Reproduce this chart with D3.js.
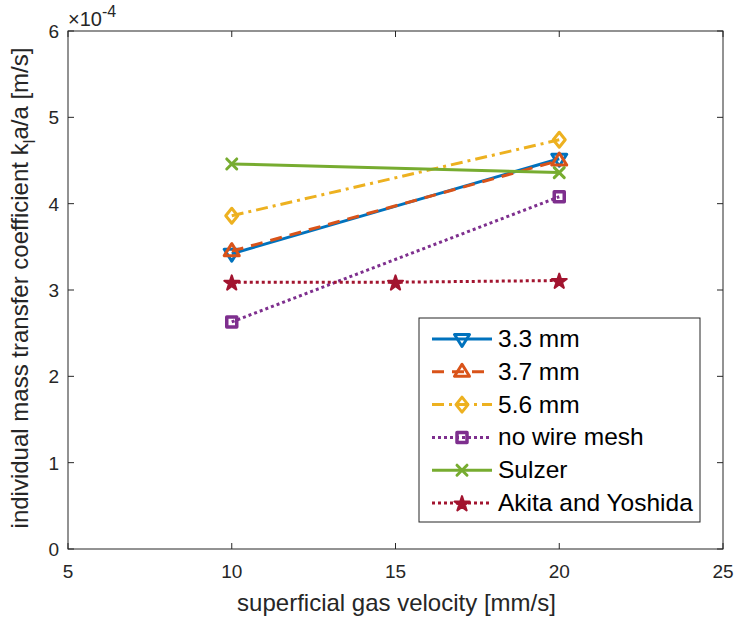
<!DOCTYPE html>
<html>
<head>
<meta charset="utf-8">
<script src="https://cdn.jsdelivr.net/npm/d3@7"></script>
<style>
  html, body { margin: 0; padding: 0; background: #fff; }
  svg { display: block; font-family: "Liberation Sans", Arial, sans-serif; }
</style>
</head>
<body>
<svg id="chart" width="736" height="620"></svg>
<script>
// Gas velocities (mm/s)
const velocities = [10, 20];
const velocitiesAkita = [10, 15, 20];

// k_L a / a values, in units of 1e-4 m/s
const wire33 = [3.42, 4.52];
const wire37 = [3.45, 4.50];
const wire56 = [3.86, 4.74];
const noMesh = [2.63, 4.08];
const sulzer = [4.46, 4.36];
const akitaYoshida = [3.09, 3.09, 3.11];

const xTicks = [5, 10, 15, 20, 25];
const yTicks = [0, 1, 2, 3, 4, 5, 6];

const series = [
  { name: "3.3 mm", xs: velocities, ys: wire33, color: "#0072BD", dash: null, marker: "tdown" },
  { name: "3.7 mm", xs: velocities, ys: wire37, color: "#D95319", dash: "12,8", marker: "tup" },
  { name: "5.6 mm", xs: velocities, ys: wire56, color: "#EDB120", dash: "12,5,3,5", marker: "diamond" },
  { name: "no wire mesh", xs: velocities, ys: noMesh, color: "#7E2F8E", dash: "3,3", marker: "square" },
  { name: "Sulzer", xs: velocities, ys: sulzer, color: "#77AC30", dash: null, marker: "x" },
  { name: "Akita and Yoshida", xs: velocitiesAkita, ys: akitaYoshida, color: "#A2142F", dash: "3,3", marker: "star" }
];

const svg = d3.select("#chart");
const m = { left: 68, right: 723, top: 31, bottom: 549 };
const axisColor = "#262626";

const x = d3.scaleLinear().domain([5, 25]).range([m.left, m.right]);
const y = d3.scaleLinear().domain([0, 6]).range([m.bottom, m.top]);

// Axes box with inward ticks on all four sides
const tickLen = 6;
const axG = svg.append("g").attr("stroke", axisColor).attr("stroke-width", 1).attr("fill", "none");
axG.append("rect").attr("x", m.left).attr("y", m.top)
  .attr("width", m.right - m.left).attr("height", m.bottom - m.top);

xTicks.forEach(t => {
  axG.append("line").attr("x1", x(t)).attr("x2", x(t)).attr("y1", m.bottom).attr("y2", m.bottom - tickLen);
  axG.append("line").attr("x1", x(t)).attr("x2", x(t)).attr("y1", m.top).attr("y2", m.top + tickLen);
});
yTicks.forEach(t => {
  axG.append("line").attr("x1", m.left).attr("x2", m.left + tickLen).attr("y1", y(t)).attr("y2", y(t));
  axG.append("line").attr("x1", m.right).attr("x2", m.right - tickLen).attr("y1", y(t)).attr("y2", y(t));
});

// Tick labels
svg.append("g").selectAll("text").data(xTicks).join("text")
  .attr("x", d => x(d)).attr("y", m.bottom + 29)
  .attr("text-anchor", "middle").attr("font-size", 19).attr("fill", axisColor)
  .text(d => d);
svg.append("g").selectAll("text").data(yTicks).join("text")
  .attr("x", m.left - 9).attr("y", d => y(d) + 7)
  .attr("text-anchor", "end").attr("font-size", 19).attr("fill", axisColor)
  .text(d => d);

// Exponent label
const expo = svg.append("text").attr("x", m.left).attr("y", m.top - 5)
  .attr("font-size", 20).attr("fill", axisColor);
expo.append("tspan").text("\u00d710");
expo.append("tspan").attr("dy", -9).attr("font-size", 16).text("-4");

// Axis titles
svg.append("text").attr("x", (m.left + m.right) / 2 + 1).attr("y", 611)
  .attr("text-anchor", "middle").attr("font-size", 24).attr("fill", axisColor)
  .text("superficial gas velocity [mm/s]");
const yt = svg.append("text")
  .attr("transform", `translate(28,${(m.top + m.bottom) / 2 - 2}) rotate(-90)`)
  .attr("text-anchor", "middle").attr("font-size", 24).attr("fill", axisColor);
yt.append("tspan").text("individual mass transfer coefficient k");
yt.append("tspan").attr("dy", 7).attr("font-size", 17).text("l");
yt.append("tspan").attr("dy", -7).text("a/a [m/s]");

// Marker drawing
function drawMarker(g, type, cx, cy, color) {
  const s = 7.5;
  if (type === "tdown") {
    g.append("path").attr("d", `M${cx - s},${cy - s * 0.6}L${cx + s},${cy - s * 0.6}L${cx},${cy + s}Z`)
      .attr("fill", "none").attr("stroke", color).attr("stroke-width", 3).attr("stroke-linejoin", "round");
  } else if (type === "tup") {
    g.append("path").attr("d", `M${cx - s},${cy + s * 0.6}L${cx + s},${cy + s * 0.6}L${cx},${cy - s}Z`)
      .attr("fill", "none").attr("stroke", color).attr("stroke-width", 3).attr("stroke-linejoin", "round");
  } else if (type === "diamond") {
    g.append("path").attr("d", `M${cx},${cy - s}L${cx + s * 0.8},${cy}L${cx},${cy + s}L${cx - s * 0.8},${cy}Z`)
      .attr("fill", "none").attr("stroke", color).attr("stroke-width", 3).attr("stroke-linejoin", "round");
  } else if (type === "square") {
    g.append("rect").attr("x", cx - 5).attr("y", cy - 5).attr("width", 10).attr("height", 10)
      .attr("fill", "none").attr("stroke", color).attr("stroke-width", 3.5).attr("stroke-linejoin", "round");
  } else if (type === "x") {
    const r = 5;
    g.append("path").attr("d", `M${cx - r},${cy - r}L${cx + r},${cy + r}M${cx - r},${cy + r}L${cx + r},${cy - r}`)
      .attr("stroke", color).attr("stroke-width", 3).attr("stroke-linecap", "round");
  } else if (type === "star") {
    const sym = d3.symbol().type(d3.symbolStar).size(70);
    g.append("path").attr("d", sym()).attr("transform", `translate(${cx},${cy + 1})`)
      .attr("fill", color).attr("stroke", color).attr("stroke-width", 2).attr("stroke-linejoin", "round");
  }
}

// Series
const line = d3.line().x(d => x(d[0])).y(d => y(d[1]));
const plotG = svg.append("g");
series.forEach(s => {
  const pts = s.xs.map((v, i) => [v, s.ys[i]]);
  plotG.append("path").datum(pts).attr("d", line)
    .attr("fill", "none").attr("stroke", s.color).attr("stroke-width", 3)
    .attr("stroke-dasharray", s.dash);
  pts.forEach(p => drawMarker(plotG, s.marker, x(p[0]), y(p[1]), s.color));
});

// Legend
const lg = svg.append("g");
lg.append("rect").attr("x", 419).attr("y", 318).attr("width", 281).attr("height", 204)
  .attr("fill", "#fff").attr("stroke", axisColor).attr("stroke-width", 1);
series.forEach((s, i) => {
  const cy = 339 + i * 32.8;
  lg.append("line").attr("x1", 432).attr("x2", 492).attr("y1", cy).attr("y2", cy)
    .attr("stroke", s.color).attr("stroke-width", 3).attr("stroke-dasharray", s.dash);
  drawMarker(lg, s.marker, 462, cy, s.color);
  lg.append("text").attr("x", 498).attr("y", cy + 8).attr("font-size", 24.5).attr("fill", "#000")
    .text(s.name);
});
</script>
</body>
</html>
